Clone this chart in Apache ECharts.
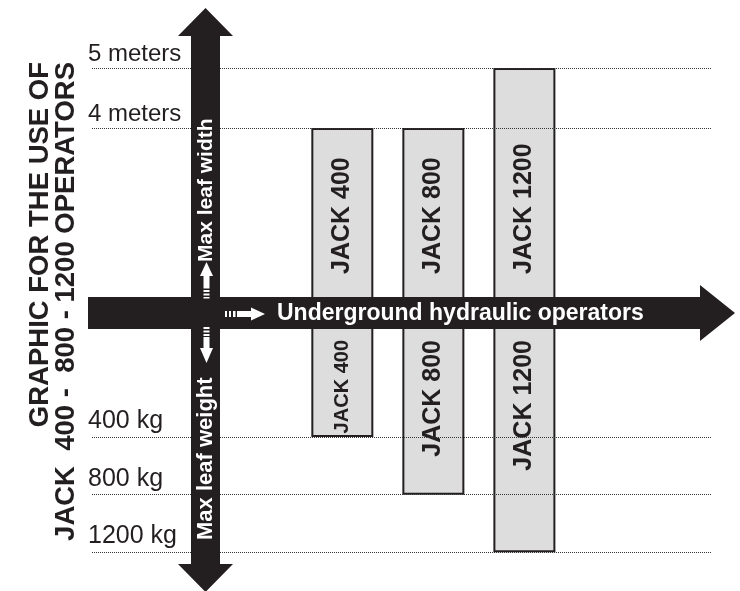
<!DOCTYPE html>
<html>
<head>
<meta charset="utf-8">
<title>JACK 400 - 800 - 1200 operators</title>
<script src="https://cdn.jsdelivr.net/npm/echarts@6/dist/echarts.min.js"></script>
<style>
    html, body { margin: 0; padding: 0; background: #fff; }
    #chart { width: 740px; height: 591px; }
</style>
</head>
<body>
<div id="chart"></div>
<script>
// data
const models = ['JACK 400', 'JACK 800', 'JACK 1200'];
const maxWidth = [4, 4, 5];            // meters
const maxWeight = [400, 800, 1200];    // kg
const widthTicks = [4, 5];
const weightTicks = [400, 800, 1200];

const ink = '#231f20';
const font = "'Liberation Sans', Arial, sans-serif";

const chart = echarts.init(document.getElementById('chart'));

// dotted reference lines with the label sitting on the left end
function refLines(ticks, unit, dy, size) {
    return {
        silent: true,
        symbol: ['none', 'none'],
        lineStyle: { color: '#333', width: 1, type: [1, 1] },
        label: {
            position: 'insideStartTop',
            formatter: '{b}',
            distance: [-4, dy],
            color: ink,
            fontSize: size,
            fontFamily: font
        },
        emphasis: { disabled: true },
        data: ticks.map(v => ({ yAxis: v, name: v + ' ' + unit }))
    };
}

const barStyle = { color: '#dddddd', borderColor: ink, borderWidth: 2 };
const labelBase = {
    show: true,
    formatter: '{b}',
    rotate: 90,
    verticalAlign: 'middle',
    fontSize: 25,
    fontWeight: 'bold',
    color: ink,
    fontFamily: font
};

// white dashed arrows on the black axes
function smallArrows() {
    const w = '#fff';
    const els = [];
    const rect = (x, y, width, height) => els.push({ type: 'rect', z: 110, shape: { x, y, width, height }, style: { fill: w } });
    const poly = pts => els.push({ type: 'polygon', z: 110, shape: { points: pts }, style: { fill: w } });
    // up
    poly([[200, 276], [206.5, 262], [213, 276]]);
    rect(203.5, 275.5, 6, 13);
    rect(203.5, 290, 6, 2); rect(203.5, 293.5, 6, 2); rect(203.5, 297, 6, 1.5);
    // right
    poly([[251, 307.5], [265, 314], [251, 320.5]]);
    rect(237, 311, 15, 6);
    rect(225, 311, 2, 6); rect(229, 311, 2, 6); rect(233, 311, 2.5, 6);
    // down
    poly([[200, 348], [206.5, 363], [213, 348]]);
    rect(203.5, 337, 6, 11.5);
    rect(203.5, 327, 6, 2); rect(203.5, 330.5, 6, 2); rect(203.5, 334, 6, 2);
    return els;
}

const option = {
    animation: false,
    backgroundColor: '#fff',
    grid: [
        { left: 92, right: 29, top: 8, height: 300 },
        { left: 92, right: 29, top: 322, height: 259 }
    ],
    xAxis: [
        { gridIndex: 0, type: 'value', min: -2.75, max: 4.05, show: false },
        { gridIndex: 1, type: 'value', min: -2.75, max: 4.05, show: false }
    ],
    yAxis: [
        { gridIndex: 0, type: 'value', min: 1, max: 6, show: false },
        { gridIndex: 1, type: 'value', inverse: true, min: -400, max: 1400, startValue: -400, show: false }
    ],
    series: [
        {
            name: 'Max leaf width',
            type: 'bar',
            xAxisIndex: 0,
            yAxisIndex: 0,
            barWidth: 62,
            clip: true,
            silent: true,
            itemStyle: barStyle,
            label: Object.assign({}, labelBase, { position: 'insideBottom', distance: 35, align: 'left' }),
            data: models.map((m, i) => ({ name: m, value: [i, maxWidth[i]] })),
            markLine: refLines(widthTicks, 'meters', 2, 24)
        },
        {
            name: 'Max leaf weight',
            type: 'bar',
            xAxisIndex: 1,
            yAxisIndex: 1,
            barWidth: 62,
            clip: true,
            silent: true,
            itemStyle: barStyle,
            label: Object.assign({}, labelBase, { position: 'insideTop', distance: 18, align: 'right' }),
            data: models.map((m, i) => ({
                name: m,
                value: [i, maxWeight[i]],
                // the short bar gets a smaller label
                label: i === 0
                    ? Object.assign({}, labelBase, { position: 'insideTop', distance: 18, align: 'right', fontSize: 20, fontWeight: 900 })
                    : undefined
            })),
            markLine: refLines(weightTicks, 'kg', 3.5, 25)
        }
    ],
    graphic: [
        // horizontal arrow
        {
            type: 'polygon', z: 100,
            shape: { points: [[88, 297], [700, 297], [700, 285], [735, 313], [700, 341], [700, 329], [88, 329]] },
            style: { fill: ink }
        },
        // vertical arrow (double headed)
        {
            type: 'polygon', z: 100,
            shape: { points: [[191, 36], [178, 36], [205.5, 8], [233, 36], [220, 36], [220, 564], [233, 564], [205.5, 592], [178, 564], [191, 564]] },
            style: { fill: ink }
        },
        {
            type: 'text', z: 110, x: 277, y: 314,
            style: { text: 'Underground hydraulic operators', fill: '#fff', font: 'bold 23px ' + font, align: 'left', verticalAlign: 'middle' }
        },
        {
            type: 'text', z: 110, x: 206, y: 262, rotation: Math.PI / 2,
            style: { text: 'Max leaf width', fill: '#fff', font: 'bold 21px ' + font, align: 'left', verticalAlign: 'middle' }
        },
        {
            type: 'text', z: 110, x: 206, y: 540, rotation: Math.PI / 2,
            style: { text: 'Max leaf weight', fill: '#fff', font: 'bold 22px ' + font, align: 'left', verticalAlign: 'middle' }
        },
        // title, two rotated lines, ends aligned at the top
        {
            type: 'text', z: 110, x: 53, y: 62, rotation: Math.PI / 2,
            style: {
                text: 'GRAPHIC FOR THE USE OF\nJACK  400 -  800 - 1200 OPERATORS',
                fill: ink, font: 'bold 27.5px ' + font, lineHeight: 26,
                align: 'right', verticalAlign: 'middle'
            }
        }
    ].concat(smallArrows())
};

chart.setOption(option);
window.addEventListener('resize', () => chart.resize());
</script>
</body>
</html>
